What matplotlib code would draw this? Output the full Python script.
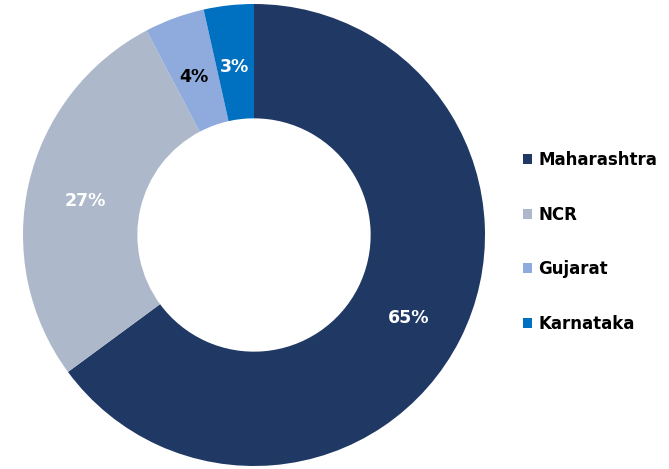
import numpy as np
import matplotlib.pyplot as plt
from matplotlib.patches import Patch

states = ['Maharashtra', 'NCR', 'Gujarat', 'Karnataka']
share = [64.9, 27.4, 4.2, 3.5]
pct_labels = ['65%', '27%', '4%', '3%']
colors = ['#203864', '#adb9ca', '#8faadc', '#0070c0']
label_colors = ['white', 'white', 'black', 'white']

plt.rcParams['font.family'] = ['DejaVu Sans']

fig = plt.figure(figsize=(6.69, 4.69), dpi=100)
ax = fig.add_axes([23/669, 3/469, 462/669, 462/469])

wedges, _ = ax.pie(share, colors=colors, startangle=90, counterclock=False,
                   radius=1, wedgeprops=dict(width=0.495, edgecolor='none'))

# percentage labels sit along the ring
for w, lab, c in zip(wedges, pct_labels, label_colors):
    mid = np.deg2rad((w.theta1 + w.theta2) / 2)
    r = 0.75
    ax.text(r*np.cos(mid), r*np.sin(mid) - 0.02, lab, color=c, fontsize=12.5,
            fontweight='bold', ha='center', va='center')

ax.set_xlim(-1, 1)
ax.set_ylim(-1, 1)
ax.set_aspect('equal')
ax.axis('off')

handles = [Patch(facecolor=c, edgecolor='none') for c in colors]
fig.legend(handles, states, loc='center left', bbox_to_anchor=(508/669, 1 - 242/469),
           frameon=False, prop=dict(size=12, weight='bold'),
           handlelength=0.55, handleheight=0.55, handletextpad=0.35,
           labelspacing=2.2)

fig.savefig('out.png', dpi=100)
